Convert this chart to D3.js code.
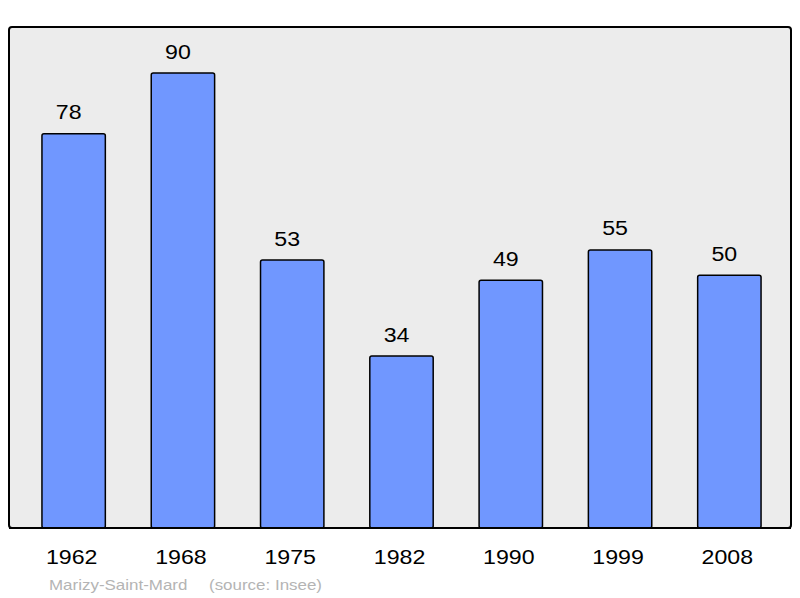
<!DOCTYPE html>
<html><head><meta charset="utf-8">
<script src="https://cdn.jsdelivr.net/npm/d3@7"></script>
<style>body{margin:0;background:#fff}svg{display:block}</style>
</head><body>
<script>
const years = ["1962","1968","1975","1982","1990","1999","2008"];
const population = [78, 90, 53, 34, 49, 55, 50];
const footerName = "Marizy-Saint-Mard";
const footerSource = "(source: Insee)";

const W = 800, H = 598;
const FONT = "Liberation Sans, Arial, sans-serif";
const SX = 1.13;
const svg = d3.select("body").append("svg").attr("width", W).attr("height", H);

svg.append("rect").attr("x", 9).attr("y", 27).attr("width", 782).attr("height", 501)
  .attr("rx", 3).attr("fill", "#ececec").attr("stroke", "#000").attr("stroke-width", 2);

const x = d3.scaleBand().domain(years).range([19, 784]).paddingInner(0.42).paddingOuter(0.21);
const y = d3.scaleLinear().domain([0, 90]).range([528, 73]);

const data = years.map((yr, i) => ({yr, v: population[i]}));

svg.selectAll("rect.bar").data(data).enter().append("rect").attr("class", "bar")
  .attr("x", d => x(d.yr)).attr("y", d => y(d.v))
  .attr("width", x.bandwidth()).attr("height", d => y(0) - y(d.v))
  .attr("rx", 2).attr("fill", "#7097ff").attr("stroke", "#000").attr("stroke-width", 1.5);

svg.selectAll("text.val").data(data).enter().append("text").attr("class", "val")
  .attr("transform", d => `translate(${x(d.yr) + x.bandwidth() / 2 - 5},${y(d.v) - 14.5}) scale(${SX},1)`)
  .attr("text-anchor", "middle").attr("font-family", FONT)
  .attr("font-size", 20.5).attr("fill", "#000").text(d => d.v);

svg.append("line").attr("x1", 9).attr("x2", 791).attr("y1", 528).attr("y2", 528)
  .attr("stroke", "#000").attr("stroke-width", 2);

const xAxis = d3.axisBottom(x).tickSize(0).tickPadding(0);
const ax = svg.append("g").attr("transform", "translate(0,564)").call(xAxis);
ax.select(".domain").remove();
ax.selectAll("text").attr("font-family", FONT)
  .attr("font-size", 20.5).attr("fill", "#000")
  .attr("dy", 0).attr("y", 0).attr("x", 0)
  .attr("transform", `translate(-2,0) scale(${SX},1)`);

svg.append("text").attr("transform", `translate(49,589.5) scale(${SX},1)`)
  .attr("font-family", FONT).attr("font-size", 15)
  .attr("fill", "#b4b4b4").text(footerName);
svg.append("text").attr("transform", `translate(209,589.5) scale(${SX},1)`)
  .attr("font-family", FONT).attr("font-size", 15)
  .attr("fill", "#b4b4b4").text(footerSource);
</script>
</body></html>
